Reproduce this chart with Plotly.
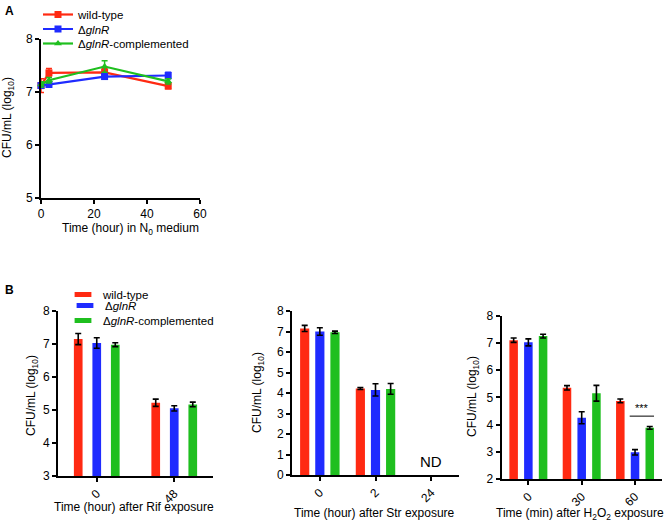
import plotly.graph_objects as go

# ---------------- data ----------------
series_names = ["wild-type", "Δ<i>glnR</i>", "Δ<i>glnR</i>-complemented"]
colors = ["#ff2a12", "#1f2bff", "#1fbf1f"]

# Panel A: time course in N0 medium
a_time = [0, 3, 24, 48]
a_wt = [7.12, 7.36, 7.37, 7.11]
a_wt_err = [0.13, 0.08, 0.07, 0.05]
a_ko = [7.12, 7.14, 7.29, 7.31]
a_ko_err = [0.04, 0.04, 0.05, 0.06]
a_comp = [7.14, 7.22, 7.48, 7.20]
a_comp_err = [0.05, 0.05, 0.11, 0.05]

# Panel B1: Rif exposure
rif_cats = ["0", "48"]
rif_wt = [7.15, 5.22]
rif_wt_err = [0.17, 0.11]
rif_ko = [7.03, 5.05]
rif_ko_err = [0.16, 0.08]
rif_comp = [6.98, 5.17]
rif_comp_err = [0.06, 0.07]

# Panel B2: Str exposure (24 h: not detected)
str_cats = ["0", "2", "24"]
str_wt = [7.15, 4.22, None]
str_wt_err = [0.15, 0.05, 0]
str_ko = [7.00, 4.15, None]
str_ko_err = [0.18, 0.30, 0]
str_comp = [6.96, 4.20, None]
str_comp_err = [0.06, 0.26, 0]
nd_label = "ND"
nd_cat = "24"

# Panel B3: H2O2 exposure
h2o2_cats = ["0", "30", "60"]
h2o2_wt = [7.10, 5.35, 4.87]
h2o2_wt_err = [0.08, 0.08, 0.07]
h2o2_ko = [7.02, 4.25, 2.98]
h2o2_ko_err = [0.13, 0.22, 0.10]
h2o2_comp = [7.25, 5.15, 3.88]
h2o2_comp_err = [0.07, 0.29, 0.05]
sig_label = "***"
sig_level = 4.31

y_title = "CFU/mL (log<sub>10</sub>)"
x_titles = ["Time (hour) in N<sub>0</sub> medium", "Time (hour) after Rif exposure",
            "Time (hour) after Str exposure", "Time (min) after H<sub>2</sub>O<sub>2</sub> exposure"]

FONT = "Arial, Liberation Sans, sans-serif"
W, H = 666, 521

fig = go.Figure()

# ---------------- panel A ----------------
a_sets = [(a_wt, a_wt_err, "square"), (a_ko, a_ko_err, "square"), (a_comp, a_comp_err, "triangle-up")]
a_legends = ["legend", "legend2", "legend3"]
for name, col, (vals, errs, sym), lg in zip(series_names, colors, a_sets, a_legends):
    fig.add_trace(go.Scatter(
        x=a_time, y=vals, name=name, mode="lines+markers",
        line=dict(color=col, width=2.2),
        marker=dict(color=col, symbol=sym, size=7),
        error_y=dict(type="data", array=errs, color=col, thickness=1.5, width=3),
        cliponaxis=False, xaxis="x", yaxis="y", legend=lg, showlegend=True,
    ))

# ---------------- panel B bars ----------------
b_legends = ["legend4", "legend5", "legend6"]

def add_bars(cats, sets, xa, ya, spacing, width):
    for i, (name, col, (vals, errs)) in enumerate(zip(series_names, colors, sets)):
        fig.add_trace(go.Bar(
            x=cats, y=vals, name=name, marker=dict(color=col, line=dict(width=0)),
            width=width, offset=(i - 1) * spacing - width / 2,
            error_y=dict(type="data", array=errs, color="black", thickness=1.6, width=3),
            xaxis=xa, yaxis=ya, showlegend=False,
        ))

add_bars(rif_cats, [(rif_wt, rif_wt_err), (rif_ko, rif_ko_err), (rif_comp, rif_comp_err)],
         "x2", "y2", 0.239, 0.112)
add_bars(str_cats, [(str_wt, str_wt_err), (str_ko, str_ko_err), (str_comp, str_comp_err)],
         "x3", "y3", 0.272, 0.165)
h_spacing, h_width = 0.276, 0.16
add_bars(h2o2_cats, [(h2o2_wt, h2o2_wt_err), (h2o2_ko, h2o2_ko_err), (h2o2_comp, h2o2_comp_err)],
         "x4", "y4", h_spacing, h_width)

# legend keys for the bar panels (flat colour swatches, no data drawn)
for name, col, lg in zip(series_names, colors, b_legends):
    fig.add_trace(go.Scatter(
        x=[None], y=[None], name=name, mode="markers",
        marker=dict(symbol="line-ew", size=12, color=col, line=dict(color=col, width=5)),
        xaxis="x2", yaxis="y2", legend=lg, showlegend=True, hoverinfo="skip",
    ))

# ---------------- axes ----------------
tickfont = dict(family=FONT, size=12, color="black")
titlefont = dict(family=FONT, size=12, color="black")
common = dict(showline=True, linecolor="black", linewidth=2, ticks="outside", ticklen=4,
              tickwidth=1.6, tickcolor="black", showgrid=False, zeroline=False,
              tickfont=tickfont, fixedrange=True)

def px_x(a, b):
    return [a / W, b / W]

def px_y(bottom, top):
    return [1 - bottom / H, 1 - top / H]

fig.update_layout(
    xaxis=dict(domain=px_x(41, 200), range=[0, 60], dtick=20, anchor="y", **common),
    yaxis=dict(domain=px_y(197.7, 39), range=[5, 8], dtick=1, anchor="x", **common),
    xaxis2=dict(domain=px_x(58, 213), range=[-0.5, 1.5], type="category", anchor="y2", tickangle=-45, **common),
    yaxis2=dict(domain=px_y(476, 311), range=[3, 8], dtick=1, anchor="x2", **common),
    xaxis3=dict(domain=px_x(292, 459), range=[-0.5, 2.5], type="category", anchor="y3", tickangle=-45, **common),
    yaxis3=dict(domain=px_y(475, 311), range=[0, 8], dtick=1, anchor="x3", **common),
    xaxis4=dict(domain=px_x(501.7, 661.7), range=[-0.5, 2.5], type="category", anchor="y4", tickangle=-45, **common),
    yaxis4=dict(domain=px_y(479, 315.7), range=[2, 8], dtick=1, anchor="x4", **common),
)

# axis titles placed where the reference has them
x_title_pos = [(130, 229), (133.5, 507), (374, 513), (579.5, 514)]
for txt, (cx, cy) in zip(x_titles, x_title_pos):
    fig.add_annotation(xref="paper", yref="paper", x=cx / W, y=1 - cy / H, text=txt, showarrow=False,
                       xanchor="center", yanchor="middle", font=titlefont)
y_title_pos = [(8, 118), (32, 396), (258, 393), (473, 397)]
for (cx, cy) in y_title_pos:
    fig.add_annotation(xref="paper", yref="paper", x=cx / W, y=1 - cy / H, text=y_title, showarrow=False,
                       textangle=-90, xanchor="center", yanchor="middle", font=titlefont)

# ---------------- legends (one per entry so rows can sit where the reference has them) ----------------
legfont = dict(family=FONT, size=11.5, color="black")
leg_common = dict(xref="container", yref="container", xanchor="left", yanchor="top",
                  bgcolor="rgba(0,0,0,0)", font=legfont, itemwidth=30)
a_rows = [(38, 14), (38, 29), (38, 43.5)]
b_rows = [(63, 294.5), (65, 305.5), (63, 320.5)]
legend_layout = {}
for lg, (lx, ly) in zip(a_legends + b_legends, a_rows + b_rows):
    legend_layout[lg] = dict(x=lx / W, y=min(1, 1 - (ly - 14.5) / H), **leg_common)
fig.update_layout(showlegend=True, **legend_layout)

# ---------------- annotations ----------------
cat60 = h2o2_cats.index("60")
fig.add_shape(type="line", xref="x4", yref="y4",
              x0=cat60 - h_width / 2 - 0.02, x1=cat60 + h_spacing + h_width / 2,
              y0=sig_level, y1=sig_level, line=dict(color="black", width=1))
fig.add_annotation(xref="x4", yref="y4", x=cat60 + h_spacing / 2, y=sig_level, text=sig_label,
                   showarrow=False, yanchor="bottom", font=dict(family=FONT, size=11, color="black"))
fig.add_annotation(xref="x3", yref="y3", x=str_cats.index(nd_cat), y=0.15, text=nd_label,
                   showarrow=False, yanchor="bottom", font=dict(family=FONT, size=15, color="black"))
fig.add_annotation(xref="paper", yref="paper", x=3 / W, y=1 - 2 / H, text="<b>A</b>", showarrow=False,
                   xanchor="left", yanchor="top", font=dict(family=FONT, size=12, color="black"))
fig.add_annotation(xref="paper", yref="paper", x=3 / W, y=1 - 281 / H, text="<b>B</b>", showarrow=False,
                   xanchor="left", yanchor="top", font=dict(family=FONT, size=12, color="black"))

fig.update_layout(width=W, height=H, margin=dict(l=0, r=0, t=0, b=0, autoexpand=False),
                  paper_bgcolor="white", plot_bgcolor="white", barmode="overlay",
                  font=dict(family=FONT, color="black"))

fig.write_html("out.html", config={"displayModeBar": False},
               post_script="document.body.style.margin='0';document.body.style.padding='0';"
                           "document.body.style.overflow='hidden';")
